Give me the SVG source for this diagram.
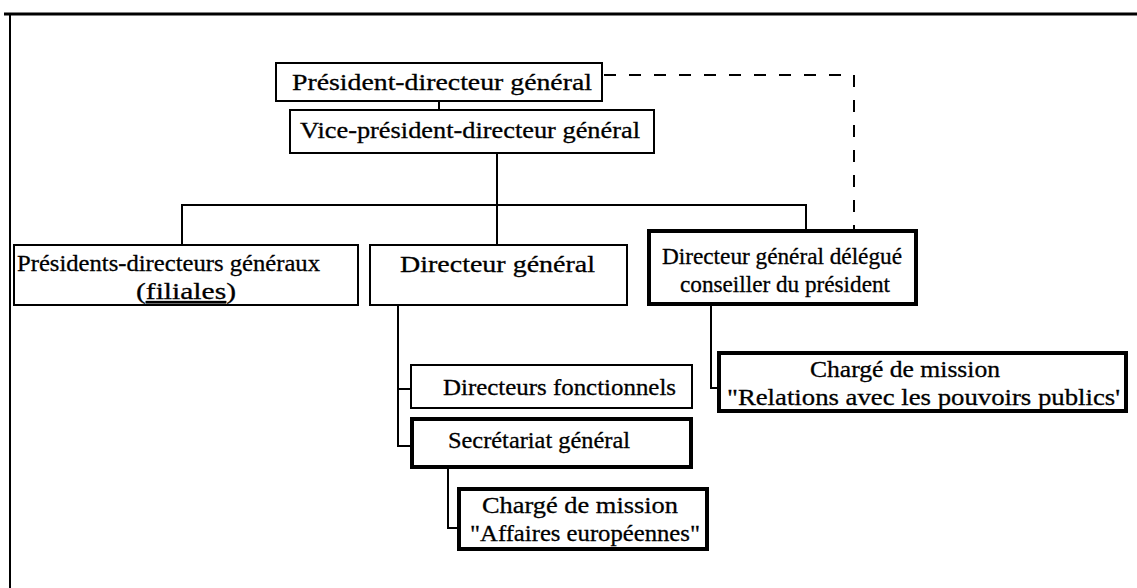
<svg xmlns="http://www.w3.org/2000/svg" width="1137" height="588" viewBox="0 0 1137 588">
  <style>
    .box { fill: #fff; stroke: #000; stroke-width: 2; }
    .bold { fill: #fff; stroke: #000; stroke-width: 4; }
    .link { fill: none; stroke: #000; stroke-width: 2; }
    .dash { fill: none; stroke: #000; stroke-width: 2; stroke-dasharray: 12 13; }
    .lbl { font-family: 'Liberation Serif', 'DejaVu Serif', serif; font-size: 24px; fill: #000; stroke: #000; stroke-width: 0.3; }
  </style>
  <rect width="1137" height="588" fill="#fff"/>

  <!-- outer frame (top and left edges) -->
  <g id="frame">
    <line x1="4" y1="14" x2="1137" y2="14" stroke="#000" stroke-width="3"/>
    <line x1="10" y1="13" x2="10" y2="588" stroke="#000" stroke-width="2"/>
  </g>

  <!-- connectors -->
  <g id="connectors">
    <path class="link" d="M439 101 V110"/>
    <path class="link" d="M497 153 V205"/>
    <path class="link" d="M182 245 V205 H806 V230"/>
    <path class="link" d="M497 205 V245"/>
    <path class="link" d="M398 305 V446 H411"/>
    <path class="link" d="M398 389 H411"/>
    <path class="link" d="M448 468 V528 H458"/>
    <path class="link" d="M711 305 V388 H718"/>
    <path class="dash" d="M604 75 H854 V230"/>
  </g>

  <g font-family="Liberation Serif, DejaVu Serif, serif">
  <g id="pdg">
    <rect class="box" x="276" y="63" width="326" height="38"/>
    <text class="lbl" x="292" y="90" textLength="300" lengthAdjust="spacingAndGlyphs">Président-directeur général</text>
  </g>

  <g id="vpdg">
    <rect class="box" x="290" y="110" width="364" height="43"/>
    <text class="lbl" x="300" y="138" textLength="340" lengthAdjust="spacingAndGlyphs">Vice-président-directeur général</text>
  </g>

  <g id="pdg-filiales">
    <rect class="box" x="14" y="245" width="344" height="60"/>
    <text class="lbl" x="17" y="271" textLength="303" lengthAdjust="spacingAndGlyphs">Présidents-directeurs généraux</text>
    <text class="lbl" x="136" y="299" textLength="100" lengthAdjust="spacingAndGlyphs">(<tspan text-decoration="underline">filiales</tspan>)</text>
  </g>

  <g id="dg">
    <rect class="box" x="370" y="245" width="257" height="60"/>
    <text class="lbl" x="400" y="272" textLength="195" lengthAdjust="spacingAndGlyphs">Directeur général</text>
  </g>

  <g id="dg-delegue">
    <rect class="bold" x="649" y="231" width="267" height="73"/>
    <text class="lbl" x="662" y="264" textLength="240" lengthAdjust="spacingAndGlyphs">Directeur général délégué</text>
    <text class="lbl" x="680" y="292" textLength="210" lengthAdjust="spacingAndGlyphs">conseiller du président</text>
  </g>

  <g id="dir-fonctionnels">
    <rect class="box" x="411" y="365" width="281" height="43"/>
    <text class="lbl" x="443" y="395" textLength="233" lengthAdjust="spacingAndGlyphs">Directeurs fonctionnels</text>
  </g>

  <g id="secretariat">
    <rect class="bold" x="412" y="419" width="279" height="48"/>
    <text class="lbl" x="448" y="448" textLength="182" lengthAdjust="spacingAndGlyphs">Secrétariat général</text>
  </g>

  <g id="mission-europe">
    <rect class="bold" x="459" y="489" width="248" height="60"/>
    <text class="lbl" x="482" y="513" textLength="196" lengthAdjust="spacingAndGlyphs">Chargé de mission</text>
    <text class="lbl" x="470" y="541" textLength="230" lengthAdjust="spacingAndGlyphs">"Affaires européennes"</text>
  </g>

  <g id="mission-pouvoirs">
    <rect class="bold" x="719" y="353" width="407" height="58"/>
    <text class="lbl" x="810" y="377" textLength="190" lengthAdjust="spacingAndGlyphs">Chargé de mission</text>
    <text class="lbl" x="727" y="405" textLength="393" lengthAdjust="spacingAndGlyphs">"Relations avec les pouvoirs publics'</text>
  </g>
  </g>
</svg>
